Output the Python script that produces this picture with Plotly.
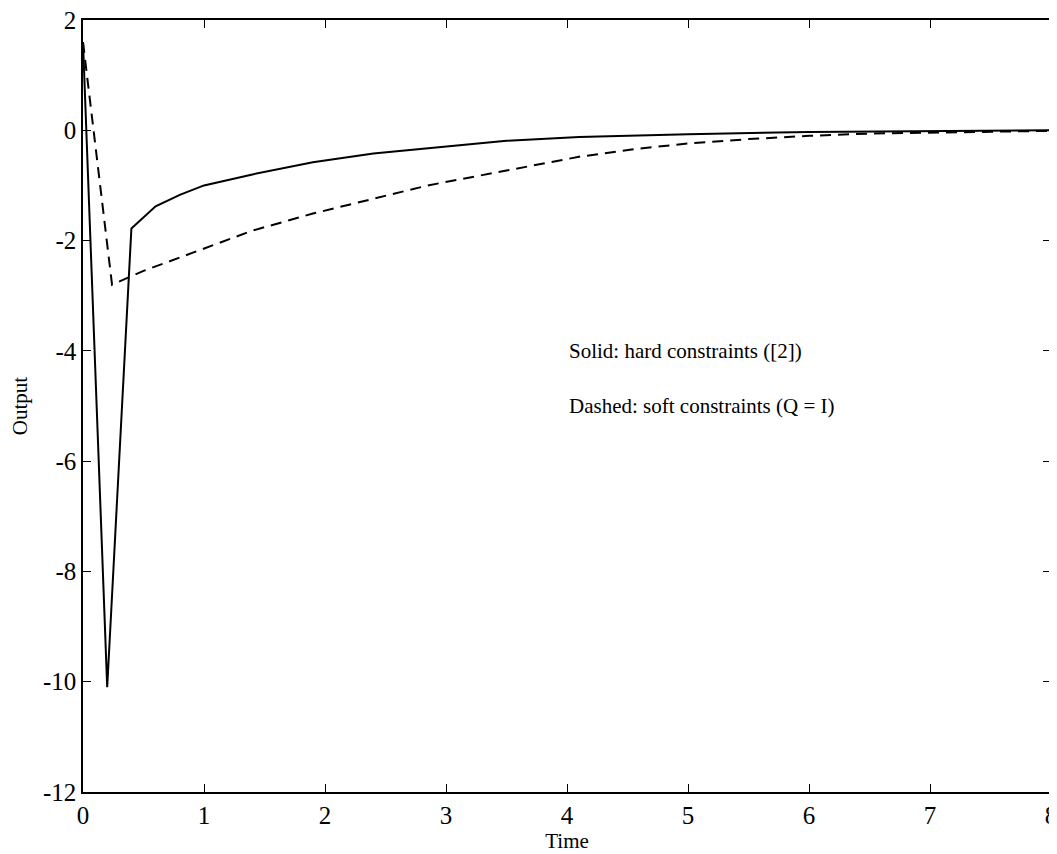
import plotly.graph_objects as go

# Solid: hard constraints
t_solid = [0.0, 0.2, 0.4, 0.6, 0.8, 1.0, 1.4, 1.9, 2.4, 2.9, 3.5, 4.1, 5.0, 6.0, 7.0, 8.0]
y_solid = [1.6, -10.1, -1.78, -1.38, -1.17, -1.0, -0.8, -0.58, -0.42, -0.31, -0.19, -0.12, -0.07, -0.03, -0.01, 0.0]

# Dashed: soft constraints
t_dashed = [0.0, 0.24, 0.5, 0.95, 1.4, 1.9, 2.4, 2.85, 3.5, 4.1, 4.6, 5.0, 5.5, 6.0, 6.5, 7.0, 8.0]
y_dashed = [1.6, -2.8, -2.55, -2.18, -1.82, -1.51, -1.24, -1.0, -0.73, -0.48, -0.33, -0.24, -0.16, -0.1, -0.06, -0.04, -0.01]

x_ticks = [0, 1, 2, 3, 4, 5, 6, 7, 8]
y_ticks = [-12, -10, -8, -6, -4, -2, 0, 2]

font = "Liberation Serif"

fig = go.Figure()
fig.add_trace(go.Scatter(x=t_solid, y=y_solid, mode="lines",
                         line=dict(color="black", width=2)))
fig.add_trace(go.Scatter(x=t_dashed, y=y_dashed, mode="lines",
                         line=dict(color="black", width=2, dash="11px,7px")))

axis_common = dict(showgrid=False, zeroline=False, showline=True, linecolor="black",
                   linewidth=1.5, mirror="ticks", ticks="inside", ticklen=8,
                   tickcolor="black", tickwidth=1.2, automargin=False,
                   ticklabeloverflow="allow",
                   tickfont=dict(family=font, size=25, color="black"))

fig.update_xaxes(range=[0, 8], tickvals=x_ticks, ticktext=[str(v) for v in x_ticks],
                 title=dict(text="Time", font=dict(family=font, size=21, color="black"), standoff=2),
                 **axis_common)
fig.update_yaxes(range=[-12, 2], tickvals=y_ticks, ticktext=[str(v) for v in y_ticks],
                 title=dict(text="Output", font=dict(family=font, size=21, color="black"), standoff=12),
                 **axis_common)

fig.add_annotation(x=4.0, y=-4.0, xref="x", yref="y", xanchor="left", yanchor="middle",
                   text="Solid: hard constraints ([2])", showarrow=False,
                   font=dict(family=font, size=21, color="black"))
fig.add_annotation(x=4.0, y=-5.0, xref="x", yref="y", xanchor="left", yanchor="middle",
                   text="Dashed: soft constraints (Q = I)", showarrow=False,
                   font=dict(family=font, size=21, color="black"))

# page body has an 8px margin, so the figure is sized to end at the window edge
fig.update_layout(width=1049, height=846, showlegend=False,
                  plot_bgcolor="white", paper_bgcolor="white",
                  margin=dict(l=75, r=6, t=12, b=62))

fig.write_html("out.html")
